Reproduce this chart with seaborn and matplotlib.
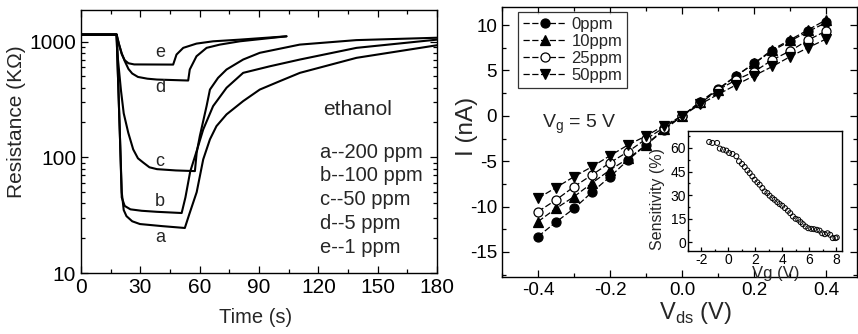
import numpy as np
import pandas as pd
import matplotlib
matplotlib.use("Agg")
import matplotlib.pyplot as plt
import seaborn as sns
from matplotlib.ticker import MultipleLocator, LogLocator, NullFormatter, FixedLocator, FixedFormatter

# ---------------- data: left panel (resistance transients) ----------------
t_a = [0, 18.0, 18.7, 19.7, 20.6, 21.6, 23.0, 25.9, 29.8, 41.3, 52.5, 54.7, 58.5, 61.8, 65.2, 68.5, 73.6, 82.0, 90.4, 100.5, 110.7, 139.3, 180]
r_a = [1150, 1150, 500, 150, 50, 35, 31, 28, 26.5, 25.4, 24.5, 32, 50, 96, 143, 186, 235, 306, 385, 455, 537, 724, 930]

t_b = [0, 18.0, 18.7, 19.7, 20.6, 22.1, 25.0, 30.7, 38.4, 50.9, 52.8, 55.2, 58.6, 61.8, 66.8, 73.6, 82.0, 95.5, 110.7, 139.3, 180]
r_b = [1150, 1150, 500, 150, 45, 38, 35.5, 34.5, 33.8, 33, 45, 75, 115, 174, 277, 399, 537, 612, 700, 883, 1040]

t_c = [0, 18.0, 18.7, 20.2, 21.6, 23.9, 26.4, 28.8, 31.5, 34.6, 38.4, 48.0, 57.6, 58.5, 60.1, 63.5, 65.2, 69.3, 73.6, 82.0, 90.4, 110.6, 139.2, 180]
r_c = [1150, 1150, 700, 380, 240, 163, 117, 98, 90, 82, 79, 77, 76, 110, 153, 277, 385, 486, 574, 700, 800, 942, 1030, 1080]

t_d = [0, 18.0, 19.2, 20.6, 22.1, 24.0, 25.9, 28.8, 33.6, 38.4, 54.2, 55.0, 58.4, 63.5, 70.2, 80.3, 103.9]
r_d = [1150, 1150, 950, 790, 680, 580, 530, 495, 478, 470, 461, 574, 747, 883, 942, 1006, 1111]

t_e = [0, 18.0, 19.2, 20.6, 22.1, 24.0, 26.9, 46.6, 48.3, 51.7, 58.4, 66.8, 80.3, 103.9]
r_e = [1150, 1150, 950, 780, 690, 650, 635, 633, 773, 883, 961, 1006, 1040, 1111]

curve_letters = ["a", "b", "c", "d", "e"]
letter_t = [40, 40, 40, 40, 40]
letter_r = [20.4, 41.7, 92, 401, 803]
legend_lines = ["a--200 ppm", "b--100 ppm", "c--50 ppm", "d--5 ppm", "e--1 ppm"]

# ---------------- data: right panel (I-V) ----------------
vds = [-0.4, -0.35, -0.3, -0.25, -0.2, -0.15, -0.1, -0.05, 0.0, 0.05, 0.1, 0.15, 0.2, 0.25, 0.3, 0.35, 0.4]
i_0ppm = [-13.3, -11.7, -10.2, -8.4, -6.7, -4.85, -3.2, -1.55, 0.0, 1.58, 2.98, 4.44, 5.8, 7.17, 8.27, 9.3, 10.3]
i_10ppm = [-11.65, -10.2, -8.9, -7.4, -5.95, -4.7, -3.2, -1.4, 0.0, 1.5, 2.9, 4.4, 5.8, 7.3, 8.4, 9.5, 10.6]
i_25ppm = [-10.55, -9.26, -7.8, -6.5, -5.15, -3.94, -2.54, -1.29, 0.0, 1.39, 2.87, 3.97, 4.88, 6.17, 7.17, 8.38, 9.37]
i_50ppm = [-9.08, -7.9, -6.7, -5.6, -4.38, -3.2, -2.2, -1.07, 0.0, 1.28, 2.38, 3.42, 4.44, 5.44, 6.54, 7.53, 8.49]
iv_labels = ["0ppm", "10ppm", "25ppm", "50ppm"]

# ---------------- data: inset (sensitivity vs Vg) ----------------
vg = [-1.43, -1.19, -0.84, -0.64, -0.40, -0.15, 0.05, 0.30, 0.59, 0.79, 1.01, 1.21, 1.41, 1.58, 1.78,
      1.95, 2.15, 2.32, 2.52, 2.69, 2.89, 3.06, 3.26, 3.43, 3.63, 3.80, 4.00, 4.20, 4.42, 4.59,
      4.79, 4.99, 5.19, 5.36, 5.53, 5.73, 5.93, 6.15, 6.35, 6.57, 6.77, 6.96, 7.16, 7.36, 7.56,
      7.75, 7.95, 8.05]
sens = [63.8, 63.2, 63.2, 59.6, 58.9, 58.3, 56.8, 56.2, 54.7, 51.5, 49.8, 47.9, 45.7, 44.0, 41.9,
        39.8, 38.1, 36.6, 34.5, 32.3, 31.3, 29.6, 28.1, 27.0, 25.5, 24.3, 23.2, 21.7, 20.0, 18.5,
        16.4, 14.9, 14.3, 12.8, 11.5, 10.0, 8.9, 8.5, 8.3, 7.9, 7.4, 5.7, 5.1, 5.7, 4.7,
        2.6, 2.6, 3.0]

# ---------------- style ----------------
sns.set_theme(style="ticks")
plt.rcParams["font.family"] = ["Liberation Sans", "DejaVu Sans"]
plt.rcParams["mathtext.fontset"] = "custom"
plt.rcParams["mathtext.rm"] = "Liberation Sans"
plt.rcParams["axes.linewidth"] = 1.0
plt.rcParams["axes.edgecolor"] = "black"

fig = plt.figure(figsize=(8.58, 3.34), dpi=100)
axL = fig.add_axes([0.0944, 0.1826, 0.4149, 0.7874])
axR = fig.add_axes([0.5851, 0.1707, 0.4138, 0.8084])
axI = fig.add_axes([0.8019, 0.2485, 0.1795, 0.3593])

def style_ticks(ax, size, major=5, minor=3):
    ax.tick_params(axis="both", which="both", direction="in", top=True, right=True,
                   colors="black", labelsize=size, width=0.9)
    ax.tick_params(which="major", length=major)
    ax.tick_params(which="minor", length=minor)
    for s in ax.spines.values():
        s.set_color("black")

# ---------------- left panel ----------------
for tt, rr in [(t_a, r_a), (t_b, r_b), (t_c, r_c), (t_d, r_d), (t_e, r_e)]:
    sns.lineplot(x=tt, y=rr, ax=axL, color="black", linewidth=1.5, sort=False, estimator=None)
axL.set_yscale("log")
axL.set_xlim(0, 180)
axL.set_ylim(10, 1875)
axL.xaxis.set_major_locator(MultipleLocator(30))
axL.xaxis.set_minor_locator(MultipleLocator(15))
axL.yaxis.set_major_locator(FixedLocator([10, 100, 1000]))
axL.yaxis.set_major_formatter(FixedFormatter(["10", "100", "1000"]))
axL.yaxis.set_minor_locator(LogLocator(base=10, subs=np.arange(2, 10)))
axL.yaxis.set_minor_formatter(NullFormatter())
style_ticks(axL, 15)
axL.set_xlabel("Time (s)", fontsize=14.5)
axL.set_ylabel("Resistance (K\u03a9)", fontsize=15)
axL.xaxis.set_label_coords(0.489, -0.171)
axL.xaxis.label.set_va("center")
axL.yaxis.set_label_coords(-0.18, 0.574)
axL.yaxis.label.set_va("center")

for lt, lr, lab in zip(letter_t, letter_r, curve_letters):
    axL.text(lt, lr, lab, fontsize=13, ha="center", va="center")
axL.text(0.778, 0.62, "ethanol", transform=axL.transAxes, fontsize=15, ha="center", va="center")
for k, line in enumerate(legend_lines):
    axL.text(0.671, 0.46 - k * 0.0903, line, transform=axL.transAxes, fontsize=14.5,
             ha="left", va="center")

# ---------------- right panel ----------------
series = [i_0ppm, i_10ppm, i_25ppm, i_50ppm]
markers = ["o", "^", "o", "v"]
faces = ["black", "black", "white", "black"]
for yy, mk, fc, lab in zip(series, markers, faces, iv_labels):
    sns.lineplot(x=vds, y=yy, ax=axR, color="black", linewidth=0.9, linestyle=(0, (5, 2)),
                 marker=mk, markersize=6.5, markerfacecolor=fc, markeredgecolor="black",
                 markeredgewidth=0.9, label=lab, estimator=None, sort=False)
axR.set_xlim(-0.5, 0.485)
axR.set_ylim(-17.76, 12.0)
axR.xaxis.set_minor_locator(MultipleLocator(0.1))
axR.yaxis.set_minor_locator(MultipleLocator(2.5))
axR.set_xticks([-0.4, -0.2, 0.0, 0.2, 0.4])
axR.set_xticklabels(["-0.4", "-0.2", "0.0", "0.2", "0.4"])
axR.set_yticks([-15, -10, -5, 0, 5, 10])
axR.set_yticklabels(["-15", "-10", "-5", "0", "5", "10"])
style_ticks(axR, 13.5)
axR.set_xlabel(r"V$_{\mathregular{ds}}$ (V)", fontsize=17)
axR.set_ylabel("I (nA)", fontsize=17.5)
axR.xaxis.set_label_coords(0.544, -0.135)
axR.xaxis.label.set_va("center")
axR.yaxis.set_label_coords(-0.099, 0.556)
axR.yaxis.label.set_va("center")
axR.text(0.113, 0.567, r"V$_{\mathregular{g}}$ = 5 V", transform=axR.transAxes,
         fontsize=14, ha="left", va="center")
leg = axR.legend(loc="upper left", bbox_to_anchor=(0.045, 0.981), fontsize=12,
                 frameon=True, fancybox=False, edgecolor="black", handlelength=2.6,
                 handletextpad=0.3, borderpad=0.3, labelspacing=0.12, borderaxespad=0.0)
leg.get_frame().set_linewidth(0.9)

# ---------------- inset ----------------
sns.scatterplot(x=vg, y=sens, ax=axI, marker="o", s=13, facecolor="none",
                edgecolor="black", linewidth=0.7)
axI.set_xlim(-3.0, 8.44)
axI.set_ylim(-5.6, 70.8)
axI.set_xticks([-2, 0, 2, 4, 6, 8])
axI.set_xticklabels(["-2", "0", "2", "4", "6", "8"])
axI.set_yticks([0, 15, 30, 45, 60])
axI.set_yticklabels(["0", "15", "30", "45", "60"])
axI.xaxis.set_minor_locator(MultipleLocator(1))
axI.yaxis.set_minor_locator(MultipleLocator(7.5))
style_ticks(axI, 10, major=3, minor=1.5)
axI.tick_params(which="both", top=False, right=False)
axI.tick_params(axis="both", pad=1.5)
axI.set_xlabel("Vg (V)", fontsize=12)
axI.set_ylabel("Sensitivity (%)", fontsize=11.5)
axI.xaxis.set_label_coords(0.57, -0.19)
axI.xaxis.label.set_va("center")
axI.yaxis.set_label_coords(-0.20, 0.433)
axI.yaxis.label.set_va("center")

fig.savefig("out.png", dpi=100)
